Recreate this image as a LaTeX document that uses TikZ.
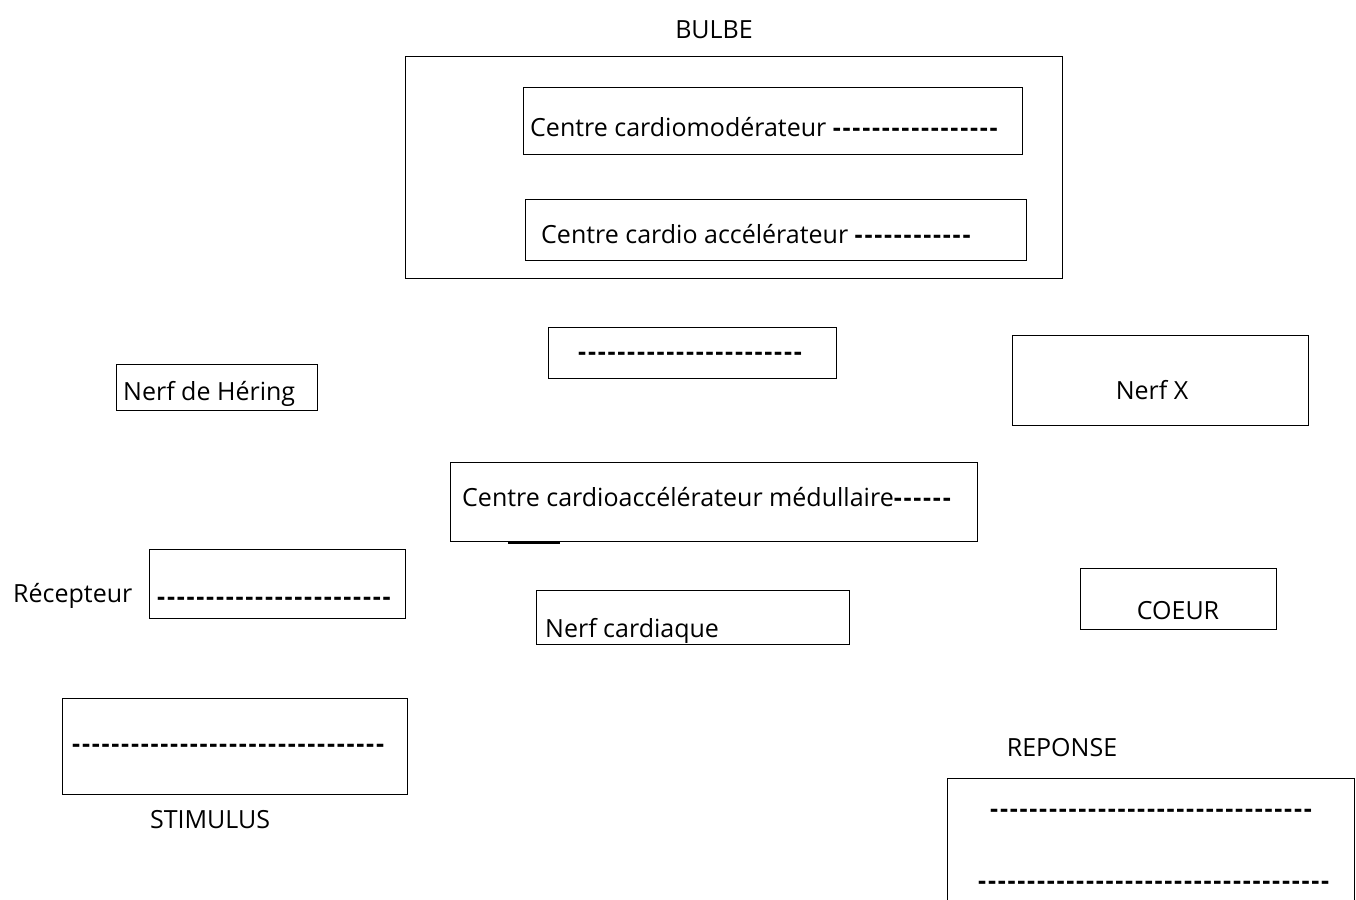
\documentclass[tikz,border=0pt]{standalone}
\usepackage{fontspec}
\setmainfont{Open Sans}
\newcommand\tirets[1]{\foreach\i in {1,...,#1}{-\kern1.75pt}}
\begin{document}
\begin{tikzpicture}[x=1pt, y=-1pt, every node/.style={font=\fontsize{25}{28}\selectfont, inner sep=0pt}]
  \tikzstyle{boite}=[draw, line width=1.4pt, anchor=north west]
  \tikzstyle{txt}=[anchor=base west]
  \tikzstyle{titre}=[anchor=base]
  \clip (0,0) rectangle (1356,899);
  % cadres
  \node[boite, minimum width=657pt, minimum height=222pt] (bulbe) at (405,56) {};
  \node[boite, minimum width=499pt, minimum height=67pt] (cm) at (523,87) {};
  \node[boite, minimum width=501pt, minimum height=61pt] (ca) at (525,199) {};
  \node[boite, minimum width=288pt, minimum height=51pt] (vide) at (548,327) {};
  \node[boite, minimum width=201pt, minimum height=46pt] (hering) at (116,364) {};
  \node[boite, minimum width=296pt, minimum height=90pt] (nerfx) at (1012,335) {};
  \node[boite, minimum width=527pt, minimum height=79pt] (med) at (450,462) {};
  \node[boite, minimum width=256pt, minimum height=69pt] (recep) at (149,549) {};
  \node[boite, minimum width=313pt, minimum height=54pt] (cardiaque) at (536,590) {};
  \node[boite, minimum width=196pt, minimum height=61pt] (coeur) at (1080,568) {};
  \node[boite, minimum width=345pt, minimum height=96pt] (stim) at (62,698) {};
  \node[boite, minimum width=407pt, minimum height=140pt] (rep) at (947,778) {};
  \draw[line width=2.2pt] (508,543) -- (560,543);
  % textes
  \node[titre] (tbulbe) at (714,39) {BULBE};
  \node[txt] (tcm) at (530,136) {Centre cardiomodérateur \textbf{\tirets{17}}};
  \node[txt] (tca) at (541,243) {Centre cardio accélérateur \textbf{\tirets{12}}};
  \node[txt] (tvide) at (578,360) {\textbf{\tirets{23}}};
  \node[txt] (thering) at (123,400) {Nerf de Héring};
  \node[titre] (tnerfx) at (1152,399) {Nerf X};
  \node[txt] (tmed) at (462,506) {Centre cardioaccélérateur médullaire\textbf{\tirets{6}}};
  \node[txt] (trecep) at (13,602) {Récepteur};
  \node[txt] (trecept) at (157,605) {\textbf{\tirets{24}}};
  \node[txt] (tcardiaque) at (545,637) {Nerf cardiaque};
  \node[titre] (tcoeur) at (1178,619) {COEUR};
  \node[txt] (tstim) at (72,752) {\textbf{\tirets{32}}};
  \node[titre] (tstimulus) at (210,828) {STIMULUS};
  \node[titre] (treponse) at (1062,756) {REPONSE};
  \node[txt] (trep1) at (990,817) {\textbf{\tirets{33}}};
  \node[txt] (trep2) at (978,889) {\textbf{\tirets{36}}};
\end{tikzpicture}
\end{document}
